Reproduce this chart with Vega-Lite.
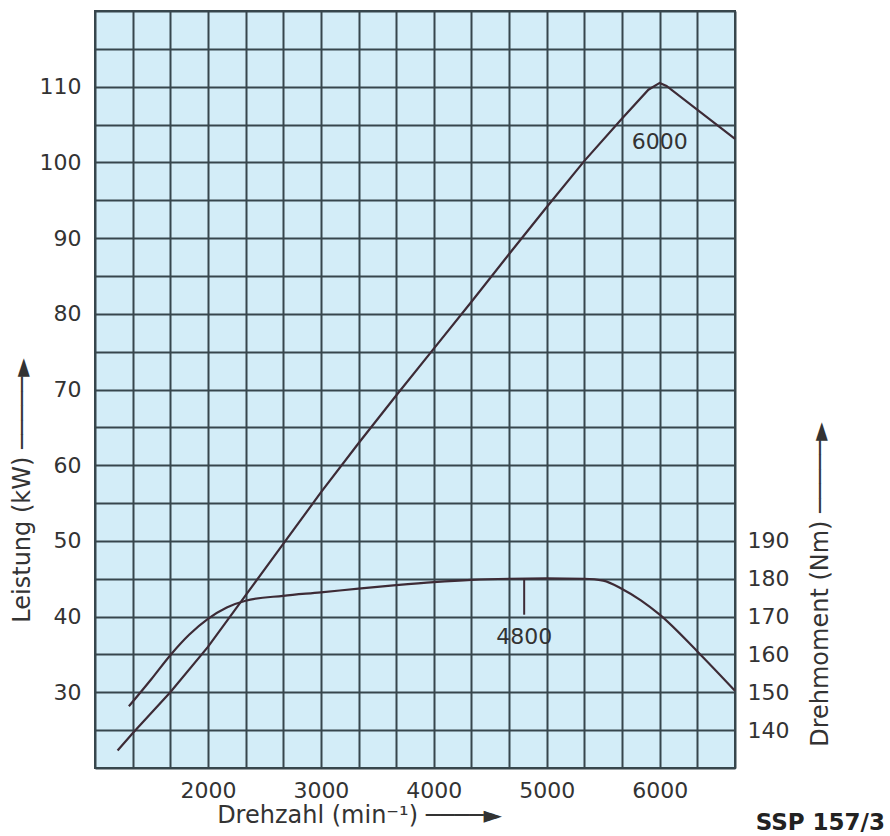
{
  "$schema": "https://vega.github.io/schema/vega-lite/v6.json",
  "width": 640,
  "height": 757,
  "autosize": {"type": "none"},
  "padding": {"left": 95, "top": 11, "right": 155, "bottom": 68},
  "background": "white",
  "config": {
    "view": {"stroke": "#37464d", "strokeWidth": 2, "fill": "#d3edf8"},
    "font": "DejaVu Sans",
    "axis": {
      "labelFont": "DejaVu Sans",
      "titleFont": "DejaVu Sans",
      "labelFontSize": 22,
      "titleFontSize": 24,
      "labelColor": "#333333",
      "titleColor": "#333333",
      "titleFontWeight": "normal",
      "ticks": false,
      "domain": false,
      "gridColor": "#37464d",
      "gridWidth": 2,
      "gridOpacity": 1,
      "labelOverlap": false
    }
  },
  "title": {
    "text": "SSP 157/3",
    "orient": "bottom",
    "anchor": "end",
    "frame": "group",
    "font": "DejaVu Sans",
    "fontSize": 23,
    "fontWeight": "bold",
    "color": "#222222",
    "baseline": "middle",
    "dx": 150,
    "dy": -8
  },
  "datasets": {
    "power": [
      {"rpm": 1200, "kw": 22.3},
      {"rpm": 1333.3, "kw": 24.6},
      {"rpm": 1666.7, "kw": 30.0},
      {"rpm": 2000, "kw": 36.0},
      {"rpm": 2333.3, "kw": 42.8},
      {"rpm": 2666.7, "kw": 49.6},
      {"rpm": 3000, "kw": 56.4},
      {"rpm": 3333.3, "kw": 62.9},
      {"rpm": 3666.7, "kw": 69.2},
      {"rpm": 4000, "kw": 75.4},
      {"rpm": 4333.3, "kw": 81.6},
      {"rpm": 4666.7, "kw": 87.9},
      {"rpm": 5000, "kw": 94.1},
      {"rpm": 5333.3, "kw": 100.2},
      {"rpm": 5666.7, "kw": 105.8},
      {"rpm": 5900, "kw": 109.6},
      {"rpm": 6000, "kw": 110.5},
      {"rpm": 6060, "kw": 110.1},
      {"rpm": 6666.7, "kw": 103.1}
    ],
    "torque": [
      {"rpm": 1300, "nm": 146.3},
      {"rpm": 1500, "nm": 153.5},
      {"rpm": 1666.7, "nm": 159.8},
      {"rpm": 1833.3, "nm": 165.2},
      {"rpm": 2000, "nm": 169.4},
      {"rpm": 2166.7, "nm": 172.4},
      {"rpm": 2333.3, "nm": 174.2},
      {"rpm": 2666.7, "nm": 175.5},
      {"rpm": 3000, "nm": 176.4},
      {"rpm": 3333.3, "nm": 177.4},
      {"rpm": 3666.7, "nm": 178.3},
      {"rpm": 4000, "nm": 179.1},
      {"rpm": 4333.3, "nm": 179.7},
      {"rpm": 4666.7, "nm": 180.0},
      {"rpm": 5000, "nm": 180.1},
      {"rpm": 5333.3, "nm": 180.0},
      {"rpm": 5500, "nm": 179.5},
      {"rpm": 5666.7, "nm": 177.3},
      {"rpm": 5833.3, "nm": 174.3},
      {"rpm": 6000, "nm": 170.5},
      {"rpm": 6333.3, "nm": 160.8},
      {"rpm": 6666.7, "nm": 150.4}
    ],
    "powerLabel": [{"rpm": 6000, "kw": 102.7, "label": "6000"}],
    "torqueMark": [{"rpm": 4800, "nm": 180.0, "nm2": 170.5}],
    "torqueLabel": [{"rpm": 4800, "nm": 164.7, "label": "4800"}]
  },
  "layer": [
    {
      "layer": [
        {
          "data": {"name": "power"},
          "mark": {"type": "line", "color": "#3d2b36", "strokeWidth": 2.2},
          "encoding": {
            "x": {
              "field": "rpm", "type": "quantitative",
              "scale": {"domain": [1000, 6666.667], "nice": false, "zero": false},
              "axis": {"values": [1000, 1333.333, 1666.667, 2000, 2333.333, 2666.667, 3000, 3333.333, 3666.667, 4000, 4333.333, 4666.667, 5000, 5333.333, 5666.667, 6000, 6333.333, 6666.667], "grid": true, "format": "d", "labelExpr": "(abs(datum.value % 1000) < 1 && datum.value >= 2000 && datum.value <= 6000) ? datum.label : ''", "labelPadding": 12, "labelFlush": false, "title": "Drehzahl (min⁻¹) ────►", "titleX": 264, "titleY": 47, "titleAlign": "center", "titleBaseline": "middle"}
            },
            "y": {
              "field": "kw", "type": "quantitative",
              "scale": {"domain": [20, 120], "nice": false, "zero": false},
              "axis": {"values": [20, 25, 30, 35, 40, 45, 50, 55, 60, 65, 70, 75, 80, 85, 90, 95, 100, 105, 110, 115, 120], "grid": true, "labelExpr": "(datum.value % 10 == 0 && datum.value >= 30 && datum.value <= 110) ? datum.label : ''", "labelPadding": 14, "title": "Leistung (kW) ─────►", "titleX": -73, "titleY": 479, "titleAngle": 270, "titleAlign": "center", "titleBaseline": "middle"}
            }
          }
        },
        {
          "data": {"name": "powerLabel"},
          "mark": {"type": "text", "font": "DejaVu Sans", "fontSize": 22, "color": "#333333", "baseline": "middle", "align": "center"},
          "encoding": {
            "x": {
              "field": "rpm", "type": "quantitative",
              "scale": {"domain": [1000, 6666.667], "nice": false, "zero": false},
              "axis": {"values": [1000, 1333.333, 1666.667, 2000, 2333.333, 2666.667, 3000, 3333.333, 3666.667, 4000, 4333.333, 4666.667, 5000, 5333.333, 5666.667, 6000, 6333.333, 6666.667], "grid": true, "format": "d", "labelExpr": "(abs(datum.value % 1000) < 1 && datum.value >= 2000 && datum.value <= 6000) ? datum.label : ''", "labelPadding": 12, "labelFlush": false, "title": "Drehzahl (min⁻¹) ────►", "titleX": 264, "titleY": 47, "titleAlign": "center", "titleBaseline": "middle"}
            },
            "y": {
              "field": "kw", "type": "quantitative",
              "scale": {"domain": [20, 120], "nice": false, "zero": false},
              "axis": {"values": [20, 25, 30, 35, 40, 45, 50, 55, 60, 65, 70, 75, 80, 85, 90, 95, 100, 105, 110, 115, 120], "grid": true, "labelExpr": "(datum.value % 10 == 0 && datum.value >= 30 && datum.value <= 110) ? datum.label : ''", "labelPadding": 14, "title": "Leistung (kW) ─────►", "titleX": -73, "titleY": 479, "titleAngle": 270, "titleAlign": "center", "titleBaseline": "middle"}
            },
            "text": {"field": "label", "type": "nominal"}
          }
        }
      ]
    },
    {
      "layer": [
        {
          "data": {"name": "torque"},
          "mark": {"type": "line", "color": "#3d2b36", "strokeWidth": 2.2, "interpolate": "monotone"},
          "encoding": {
            "x": {
              "field": "rpm", "type": "quantitative",
              "scale": {"domain": [1000, 6666.667], "nice": false, "zero": false},
              "axis": {"values": [1000, 1333.333, 1666.667, 2000, 2333.333, 2666.667, 3000, 3333.333, 3666.667, 4000, 4333.333, 4666.667, 5000, 5333.333, 5666.667, 6000, 6333.333, 6666.667], "grid": true, "format": "d", "labelExpr": "(abs(datum.value % 1000) < 1 && datum.value >= 2000 && datum.value <= 6000) ? datum.label : ''", "labelPadding": 12, "labelFlush": false, "title": "Drehzahl (min⁻¹) ────►", "titleX": 264, "titleY": 47, "titleAlign": "center", "titleBaseline": "middle"}
            },
            "y": {
              "field": "nm", "type": "quantitative",
              "scale": {"domain": [130, 330], "nice": false, "zero": false},
              "axis": {"orient": "right", "values": [140, 150, 160, 170, 180, 190], "grid": false, "labelPadding": 12, "title": "Drehmoment (Nm) ─────►", "titleX": 85, "titleY": 573, "titleAngle": 270, "titleAlign": "center", "titleBaseline": "middle"}
            }
          }
        },
        {
          "data": {"name": "torqueMark"},
          "mark": {"type": "rule", "color": "#3d2b36", "strokeWidth": 2},
          "encoding": {
            "x": {
              "field": "rpm", "type": "quantitative",
              "scale": {"domain": [1000, 6666.667], "nice": false, "zero": false},
              "axis": {"values": [1000, 1333.333, 1666.667, 2000, 2333.333, 2666.667, 3000, 3333.333, 3666.667, 4000, 4333.333, 4666.667, 5000, 5333.333, 5666.667, 6000, 6333.333, 6666.667], "grid": true, "format": "d", "labelExpr": "(abs(datum.value % 1000) < 1 && datum.value >= 2000 && datum.value <= 6000) ? datum.label : ''", "labelPadding": 12, "labelFlush": false, "title": "Drehzahl (min⁻¹) ────►", "titleX": 264, "titleY": 47, "titleAlign": "center", "titleBaseline": "middle"}
            },
            "y": {
              "field": "nm", "type": "quantitative",
              "scale": {"domain": [130, 330], "nice": false, "zero": false},
              "axis": {"orient": "right", "values": [140, 150, 160, 170, 180, 190], "grid": false, "labelPadding": 12, "title": "Drehmoment (Nm) ─────►", "titleX": 85, "titleY": 573, "titleAngle": 270, "titleAlign": "center", "titleBaseline": "middle"}
            },
            "y2": {"field": "nm2"}
          }
        },
        {
          "data": {"name": "torqueLabel"},
          "mark": {"type": "text", "font": "DejaVu Sans", "fontSize": 22, "color": "#333333", "baseline": "middle", "align": "center"},
          "encoding": {
            "x": {
              "field": "rpm", "type": "quantitative",
              "scale": {"domain": [1000, 6666.667], "nice": false, "zero": false},
              "axis": {"values": [1000, 1333.333, 1666.667, 2000, 2333.333, 2666.667, 3000, 3333.333, 3666.667, 4000, 4333.333, 4666.667, 5000, 5333.333, 5666.667, 6000, 6333.333, 6666.667], "grid": true, "format": "d", "labelExpr": "(abs(datum.value % 1000) < 1 && datum.value >= 2000 && datum.value <= 6000) ? datum.label : ''", "labelPadding": 12, "labelFlush": false, "title": "Drehzahl (min⁻¹) ────►", "titleX": 264, "titleY": 47, "titleAlign": "center", "titleBaseline": "middle"}
            },
            "y": {
              "field": "nm", "type": "quantitative",
              "scale": {"domain": [130, 330], "nice": false, "zero": false},
              "axis": {"orient": "right", "values": [140, 150, 160, 170, 180, 190], "grid": false, "labelPadding": 12, "title": "Drehmoment (Nm) ─────►", "titleX": 85, "titleY": 573, "titleAngle": 270, "titleAlign": "center", "titleBaseline": "middle"}
            },
            "text": {"field": "label", "type": "nominal"}
          }
        }
      ]
    }
  ],
  "resolve": {"scale": {"y": "independent"}}
}
